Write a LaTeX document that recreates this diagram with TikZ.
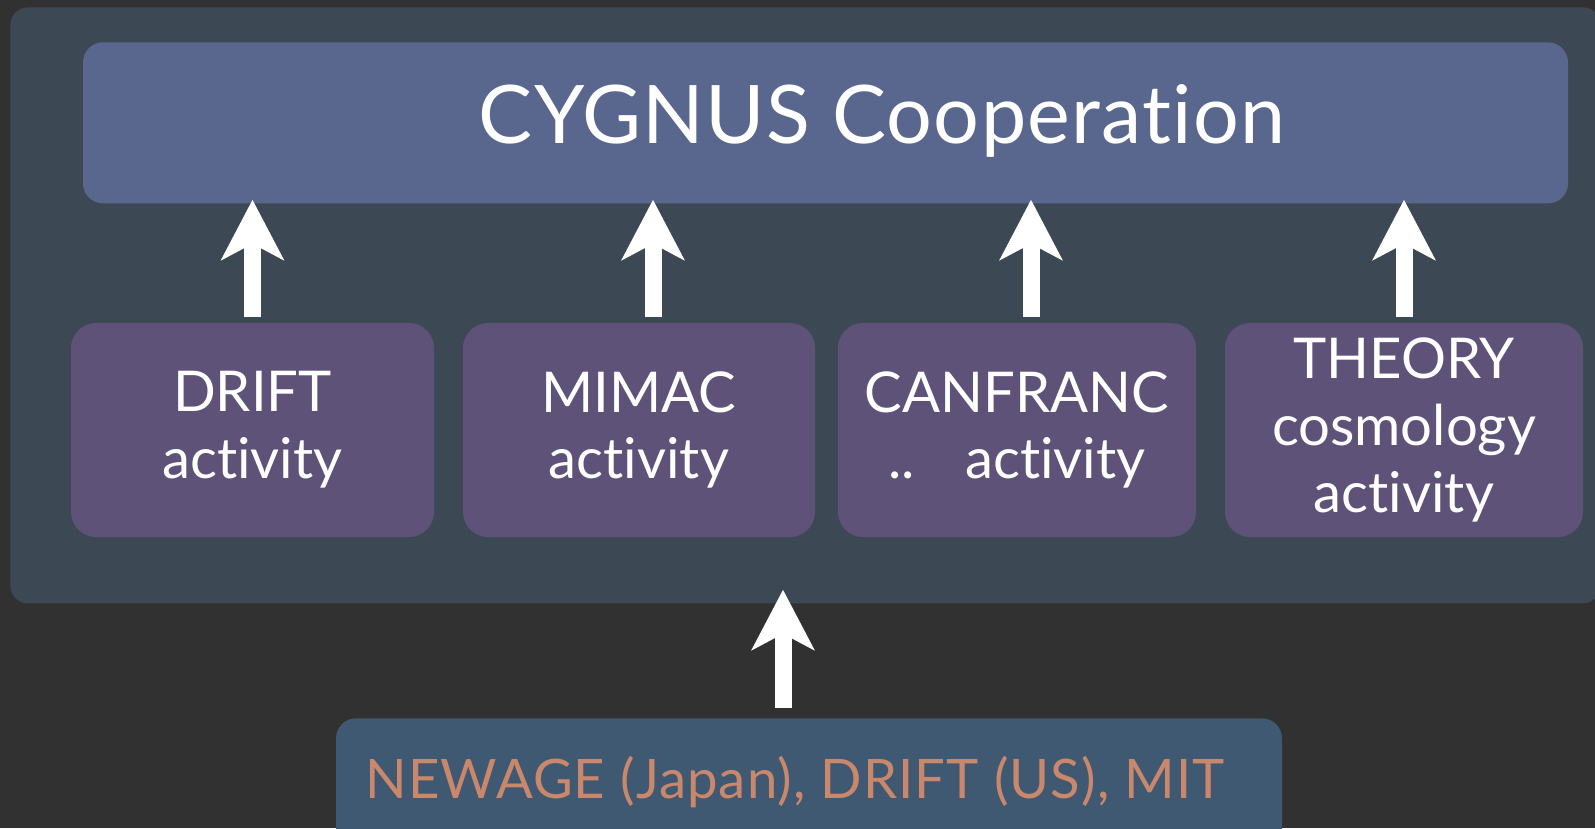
\documentclass[tikz,border=0pt]{standalone}
\usepackage{fontspec}
\setmainfont{Lato}[Ligatures=NoCommon]
\usetikzlibrary{arrows.meta, positioning}

\definecolor{slatebg}{HTML}{313132}
\definecolor{panelblue}{HTML}{3C4954}
\definecolor{coopblue}{HTML}{59678F}
\definecolor{actpurple}{HTML}{5F5279}
\definecolor{groupblue}{HTML}{3F5972}
\definecolor{salmon}{HTML}{C9876C}

\begin{document}
\begin{tikzpicture}[
  actbox/.style={fill=actpurple, rounded corners=0.5cm, minimum height=4.28cm,
    inner sep=0pt, text=white, align=center, font=\fontsize{32}{38}\selectfont},
  uparrow/.style={white, line width=0.34cm,
    -{Stealth[length=1.2cm, width=1.24cm, inset=0.32cm]}}
]
  % Canvas
  \useasboundingbox (0,0) rectangle (31.9,-16.56);
  \clip (0,0) rectangle (31.9,-16.56);
  \fill[slatebg] (0,0) rectangle (31.9,-16.56);
  % Outer panel
  \node[fill=panelblue, rounded corners=0.35cm, minimum width=31.8cm,
    minimum height=11.92cm, inner sep=0pt, anchor=north west] (panel) at (0.2,-0.14) {};
  % Cooperation bar
  \node[fill=coopblue, rounded corners=0.4cm, minimum width=29.7cm,
    minimum height=3.22cm, inner sep=0pt, anchor=north,
    label={[anchor=base, xshift=1.13cm, yshift=-2.02cm, text=white,
      font=\fontsize{46}{50}\selectfont\addfontfeatures{LetterSpace=1.5}]north:CYGNUS Cooperation}] (coop) at (16.51,-0.84) {};
  % Activities
  \node[actbox, minimum width=7.26cm] (drift) at (5.05,-8.6) {DRIFT\\activity};
  \node[actbox, minimum width=7.04cm] (mimac) at (12.78,-8.6) {MIMAC\\activity};
  \node[actbox, minimum width=7.16cm] (canfranc) at (20.34,-8.6) {CANFRANC\\..\hspace{0.55em} activity};
  \node[actbox, minimum width=7.16cm] (theory) at (28.08,-8.6) {THEORY\\cosmology\\activity};
  % Arrows up to the cooperation
  \draw[uparrow] ([yshift=0.12cm]drift.north) -- ([yshift=0.08cm]drift.north |- coop.south);
  \draw[uparrow] ([xshift=0.28cm, yshift=0.12cm]mimac.north) -- ([xshift=0.28cm, yshift=0.08cm]mimac.north |- coop.south);
  \draw[uparrow] ([xshift=0.28cm, yshift=0.12cm]canfranc.north) -- ([xshift=0.28cm, yshift=0.08cm]canfranc.north |- coop.south);
  \draw[uparrow] ([yshift=0.12cm]theory.north) -- ([yshift=0.08cm]theory.north |- coop.south);
  % Existing groups
  \node[fill=groupblue, rounded corners=0.4cm, minimum width=18.92cm,
    minimum height=4cm, inner sep=0pt, anchor=north,
    label={[anchor=base, xshift=-0.28cm, yshift=-1.6cm, text=salmon,
      font=\fontsize{31}{34}\selectfont\addfontfeatures{LetterSpace=2}]north:NEWAGE (Japan), DRIFT (US), MIT}] (groups) at (16.18,-14.36) {};
  \draw[uparrow] ([xshift=-0.52cm, yshift=0.2cm]groups.north) -- ([xshift=-0.52cm, yshift=0.28cm]groups.north |- panel.south);
\end{tikzpicture}
\end{document}
